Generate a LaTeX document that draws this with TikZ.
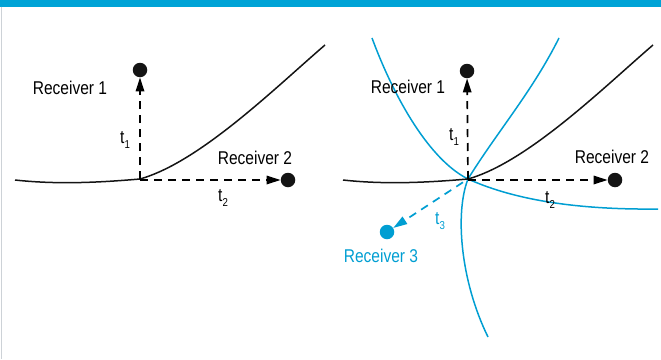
\documentclass[tikz,border=0pt]{standalone}
\usepackage{fontspec}
\setmainfont{Liberation Sans}[FakeStretch=0.84]
\usepackage{tikz}
\usetikzlibrary{arrows.meta}
\definecolor{barblue}{RGB}{0,163,214}
\definecolor{wireblue}{RGB}{0,158,210}
\definecolor{edgegray}{RGB}{205,210,215}
\newcommand{\tsub}[1]{t\raisebox{-0.3em}{\fontsize{11.5}{11.5}\selectfont #1}}

\begin{document}
\begin{tikzpicture}[x=1pt,y=-1pt,
        lab/.style={inner sep=0pt,anchor=base,font=\fontsize{18.5}{21}\selectfont},
        rdot/.style={circle,fill=black!92,inner sep=0pt,minimum size=14.5pt},
        front/.style={line width=1.5pt,black!92},
        bfront/.style={line width=1.5pt,wireblue},
        ray/.style={line width=1.7pt,dash pattern=on 8pt off 6pt,
            -{Triangle[length=14pt,width=8.5pt]}}
    ]
    \useasboundingbox (0,0) rectangle (661,359);
    \fill[barblue] (0,0) rectangle (661,6.5);
    \draw[edgegray,line width=1.5pt] (1.5,6.5) -- (1.5,359);

    % left: two receivers
    \coordinate (srcl) at (140,179);
    \node[rdot] (rec1l) at (140,70) {};
    \node[rdot] (rec2l) at (288,180) {};
    \draw[front] (15,180) .. controls (60,185) and (105,182) .. (srcl)
        .. controls (200,162) and (275,88) .. (325,45);
    \draw[ray] (srcl) -- (rec1l);
    \draw[ray] (srcl |- rec2l) -- (rec2l);
    \node[lab] (lab1l) at (70,94) {Receiver 1};
    \node[lab] (lab2l) at (255,164) {Receiver 2};
    \node[lab,anchor=base west] (t1l) at (120,143) {\tsub{1}};
    \node[lab,anchor=base west] (t2l) at (218,201) {\tsub{2}};

    % right: three receivers
    \coordinate (srcr) at (468,179);
    \node[rdot] (rec1r) at (467,71) {};
    \node[rdot] (rec2r) at (615,180) {};
    \node[rdot,fill=wireblue] (rec3r) at (387,232) {};
    \draw[bfront] (372,38) .. controls (395,100) and (430,160) .. (srcr)
        .. controls (510,198) and (570,210) .. (658,209);
    \draw[bfront] (559,38) .. controls (532,92) and (497,132) .. (srcr)
        .. controls (455,212) and (460,280) .. (488,337);
    \draw[front] (343,180) .. controls (388,185) and (433,182) .. (srcr)
        .. controls (528,162) and (603,88) .. (653,45);
    \draw[ray] (srcr) -- (rec1r);
    \draw[ray] (srcr |- rec2r) -- (rec2r);
    \draw[ray,wireblue,shorten <=6pt] (srcr) -- (rec3r);
    \node[lab] (lab1r) at (408,93) {Receiver 1};
    \node[lab] (lab2r) at (612,163) {Receiver 2};
    \node[lab,text=wireblue] (lab3r) at (381,262) {Receiver 3};
    \node[lab,anchor=base west] (t1r) at (449,140) {\tsub{1}};
    \node[lab,anchor=base west] (t2r) at (545,203) {\tsub{2}};
    \node[lab,anchor=base west,text=wireblue] (t3r) at (435,224) {\tsub{3}};
\end{tikzpicture}
\end{document}
